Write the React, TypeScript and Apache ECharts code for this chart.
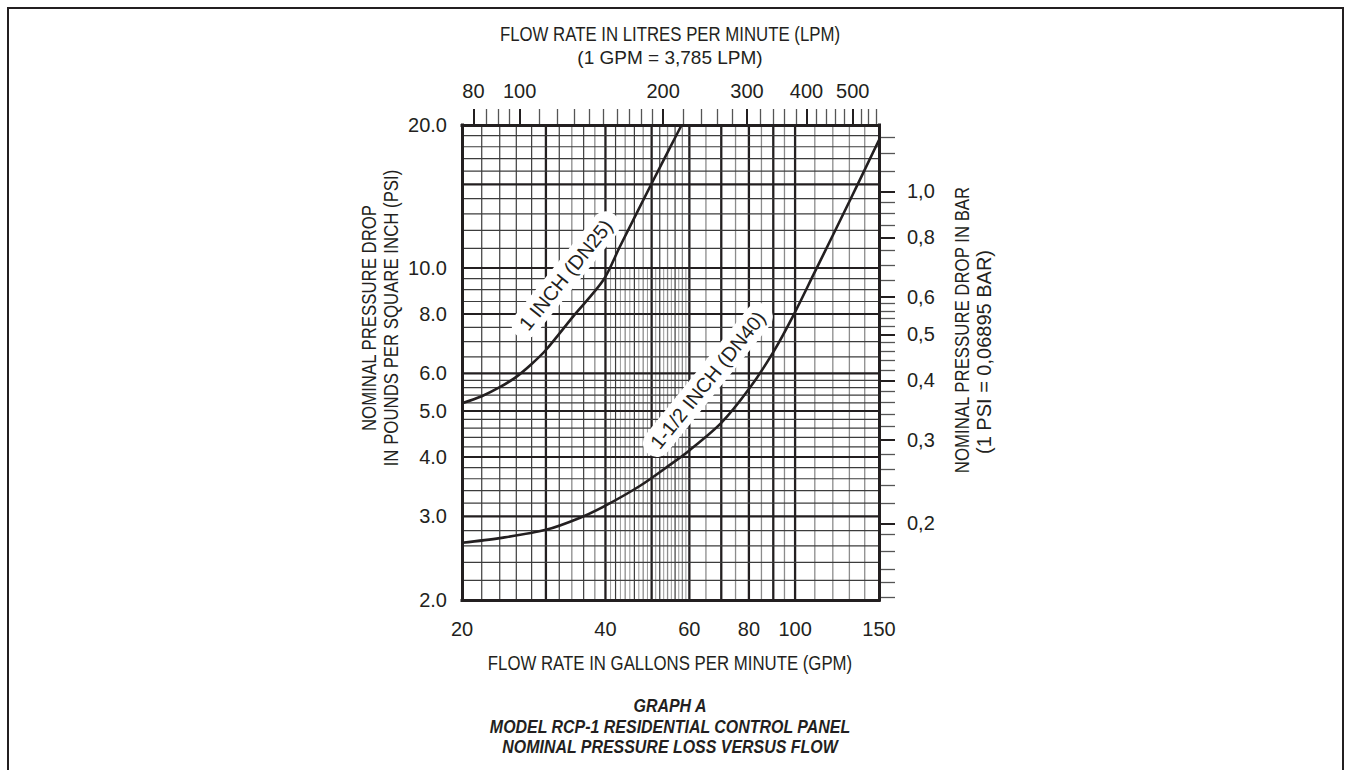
import React, { useEffect, useRef } from "react";
import * as echarts from "echarts";

// ---- tick / label values ----
const GPM_LABELS = [20, 40, 60, 80, 100, 150];
const PSI_LABELS = [2, 3, 4, 5, 6, 8, 10, 20];
const LPM_MAJOR = [80, 100, 200, 300, 400, 500];
const LPM_MINOR = [85, 90, 95, 110, 120, 130, 140, 150, 160, 170, 180, 190, 220, 240, 260, 280, 320, 340, 360, 380, 420, 440, 460, 480, 520, 540, 560];
const BAR_MAJOR = [0.2, 0.3, 0.4, 0.5, 0.6, 0.8, 1.0];
const BAR_MINOR = [0.14, 0.15, 0.16, 0.175, 0.19, 0.22, 0.24, 0.26, 0.28, 0.32, 0.34, 0.36, 0.38, 0.42, 0.44, 0.46, 0.48, 0.52, 0.54, 0.56, 0.58, 0.65, 0.7, 0.75, 0.85, 0.9, 0.95, 1.1, 1.2, 1.3];

// ---- grid line values ----
const V_MAJOR = [30, 40, 50, 60, 70, 80, 90, 100];
const V_DARK = [22, 24, 26, 28, 32, 36, 42, 46, 52, 56];
const V_GRAY = [34, 38, 44, 48, 54, 58, 65, 75, 85, 95, 110, 120, 130, 140];
const V_FINE = [41, 43, 45, 47, 49, 51, 53, 55, 57, 59];
const H_MAJOR = [3, 4, 5, 6, 8, 10, 15];
const H_MINOR = [2.2, 2.4, 2.6, 2.8, 3.2, 3.4, 3.6, 3.8, 4.2, 4.4, 4.6, 4.8, 5.2, 5.4, 5.6, 5.8, 6.5, 7, 7.5, 8.5, 9, 9.5, 11, 12, 13, 14, 16, 17, 18, 19];

// ---- curves ----
const DN25_GPM = [20, 22, 24, 26, 28, 30, 34.2, 39.6, 42.9, 50.4, 54.6, 57.8];
const DN25_PSI = [5.19, 5.37, 5.61, 5.9, 6.28, 6.72, 7.9, 9.43, 11.1, 15.3, 17.9, 20];
const DN40_GPM = [20, 24, 30, 35.4, 40, 47.3, 54.6, 60, 70, 80, 90, 99, 110, 130, 150];
const DN40_PSI = [2.64, 2.7, 2.81, 2.98, 3.16, 3.48, 3.85, 4.13, 4.72, 5.56, 6.65, 7.92, 9.81, 13.8, 18.6];

// curve label anchors (GPM, PSI)
const DN25_LABEL = [33, 9.67];
const DN40_LABEL = [65.6, 5.81];

const GPM_MIN = 20, GPM_MAX = 150, PSI_MIN = 2, PSI_MAX = 20, PSI_FINE_TOP = 10;
const LPM_PER_GPM = 3.785;
const BAR_PER_PSI = 0.06895;

const L = Math.log10;
const INK = "#231f20";
const FONT = "'Liberation Sans', Arial, Helvetica, sans-serif";
const FS = 20;
const NARROW = 0.84;

export default function App() {
  const ref = useRef<HTMLDivElement>(null);
  useEffect(() => {
    if (!ref.current) return;
    const chart = echarts.init(ref.current, null, { renderer: "svg" });

    const vItems = (vals: number[], stroke: string, w: number, y1 = PSI_MIN, y2 = PSI_MAX) =>
      vals.map((v) => ({ value: [L(v), L(y1), L(y2)], stroke, w }));
    const hItems = (vals: number[], stroke: string, w: number) =>
      vals.map((v) => ({ value: [L(v), L(GPM_MIN), L(GPM_MAX)], stroke, w }));

    const vData = [
      ...vItems(V_FINE, "#9a9a9a", 1, PSI_MIN, PSI_FINE_TOP),
      ...vItems(V_GRAY, "#8c8c8c", 1.3),
      ...vItems(V_DARK, "#3c3c3c", 1.2),
      ...vItems(V_MAJOR, INK, 2.3),
    ];
    const hData = [...hItems(H_MINOR, "#3c3c3c", 1.2), ...hItems(H_MAJOR, INK, 2.2)];

    const tickText = { color: INK, fontSize: FS, fontFamily: FONT };
    const border = { show: true, onZero: false, lineStyle: { color: INK, width: 3, cap: "square" } };
    const noLine = { show: false, onZero: false };

    const txt = (text: string, x: number, y: number, opts: any = {}) => ({
      type: "text", x, y,
      rotation: opts.rot || 0,
      scaleX: opts.sx == null ? NARROW : opts.sx,
      style: {
        text, fill: INK, textAlign: "center", textVerticalAlign: "middle",
        font: `${opts.style || ""} ${opts.fs || FS}px ${FONT}`,
      },
    });

    const option: any = {
      animation: false,
      backgroundColor: "#fff",
      grid: { left: 462, top: 125, width: 417, height: 475, show: false },
      xAxis: [
        {
          type: "value", min: L(GPM_MIN), max: L(GPM_MAX), position: "bottom", z: 10,
          axisLine: border,
          axisTick: { show: false }, splitLine: { show: false },
          axisLabel: { ...tickText, margin: 19, customValues: GPM_LABELS.map(L), formatter: (v: number) => String(Math.round(10 ** v)) },
        },
        {
          type: "value", min: L(GPM_MIN * LPM_PER_GPM), max: L(GPM_MAX * LPM_PER_GPM), position: "top", offset: 0, z: 10,
          axisLine: noLine, splitLine: { show: false }, axisLabel: { show: false },
          axisTick: { show: true, inside: false, length: 16, customValues: LPM_MINOR.map(L), lineStyle: { color: "#555", width: 1.3 } },
        },
        {
          type: "value", min: L(GPM_MIN * LPM_PER_GPM), max: L(GPM_MAX * LPM_PER_GPM), position: "top", offset: 0, z: 11,
          axisLine: border, splitLine: { show: false },
          axisTick: { show: true, inside: false, length: 16, customValues: LPM_MAJOR.map(L), lineStyle: { color: INK, width: 2 } },
          axisLabel: { ...tickText, margin: 24, customValues: LPM_MAJOR.map(L), formatter: (v: number) => String(Math.round(10 ** v)) },
        },
      ],
      yAxis: [
        {
          type: "value", min: L(PSI_MIN), max: L(PSI_MAX), position: "left", z: 10,
          axisLine: border,
          axisTick: { show: false }, splitLine: { show: false },
          axisLabel: { ...tickText, margin: 15, customValues: PSI_LABELS.map(L), formatter: (v: number) => (10 ** v).toFixed(1) },
        },
        {
          type: "value", min: L(PSI_MIN * BAR_PER_PSI), max: L(PSI_MAX * BAR_PER_PSI), position: "right", offset: 0, z: 10,
          axisLine: noLine, splitLine: { show: false }, axisLabel: { show: false },
          axisTick: { show: true, inside: false, length: 16, customValues: BAR_MINOR.map(L), lineStyle: { color: "#555", width: 1.3 } },
        },
        {
          type: "value", min: L(PSI_MIN * BAR_PER_PSI), max: L(PSI_MAX * BAR_PER_PSI), position: "right", offset: 0, z: 11,
          axisLine: border, splitLine: { show: false },
          axisTick: { show: true, inside: false, length: 16, customValues: BAR_MAJOR.map(L), lineStyle: { color: INK, width: 2 } },
          axisLabel: { ...tickText, margin: 28, customValues: BAR_MAJOR.map(L), formatter: (v: number) => (10 ** v).toFixed(1).replace(".", ",") },
        },
      ],
      series: [
        {
          type: "custom", xAxisIndex: 0, yAxisIndex: 0, z: 1, silent: true,
          data: vData,
          renderItem: (params: any, api: any) => {
            const it = vData[params.dataIndex];
            const a = api.coord([api.value(0), api.value(1)]);
            const b = api.coord([api.value(0), api.value(2)]);
            return { type: "line", shape: { x1: a[0], y1: a[1], x2: b[0], y2: b[1] }, style: { stroke: it.stroke, lineWidth: it.w } };
          },
        },
        {
          type: "custom", xAxisIndex: 0, yAxisIndex: 0, z: 1, silent: true,
          data: hData,
          renderItem: (params: any, api: any) => {
            const it = hData[params.dataIndex];
            const a = api.coord([api.value(1), api.value(0)]);
            const b = api.coord([api.value(2), api.value(0)]);
            return { type: "line", shape: { x1: a[0], y1: a[1], x2: b[0], y2: b[1] }, style: { stroke: it.stroke, lineWidth: it.w } };
          },
        },
        {
          type: "line", xAxisIndex: 0, yAxisIndex: 0, z: 3, smooth: 0.3, showSymbol: false, silent: true,
          lineStyle: { color: INK, width: 2.6 },
          data: DN25_GPM.map((g, i) => [L(g), L(DN25_PSI[i])]),
          markPoint: {
            z: 6, symbol: "circle", symbolSize: 0, silent: true,
            label: { show: true, position: "inside", rotate: 51, formatter: "1 INCH (DN25)", color: INK, fontSize: 20, fontFamily: FONT, backgroundColor: "#fff", padding: [4, 10], borderRadius: 14 },
            data: [{ coord: [L(DN25_LABEL[0]), L(DN25_LABEL[1])] }],
          },
        },
        {
          type: "line", xAxisIndex: 0, yAxisIndex: 0, z: 3, smooth: 0.3, showSymbol: false, silent: true,
          lineStyle: { color: INK, width: 2.6 },
          data: DN40_GPM.map((g, i) => [L(g), L(DN40_PSI[i])]),
          markPoint: {
            z: 6, symbol: "circle", symbolSize: 0, silent: true,
            label: { show: true, position: "inside", rotate: 51, formatter: "1-1/2 INCH (DN40)", color: INK, fontSize: 20, fontFamily: FONT, backgroundColor: "#fff", padding: [4, 10], borderRadius: 14 },
            data: [{ coord: [L(DN40_LABEL[0]), L(DN40_LABEL[1])] }],
          },
        },
      ],
      graphic: [
        { type: "rect", z: 20, shape: { x: 8, y: 8, width: 1335, height: 800 }, style: { fill: "none", stroke: INK, lineWidth: 2 } },
        txt("FLOW RATE IN LITRES PER MINUTE (LPM)", 670, 34),
        txt("(1 GPM = 3,785 LPM)", 670, 57, { sx: 1, fs: 19 }),
        txt("FLOW RATE IN GALLONS PER MINUTE (GPM)", 670, 663),
        txt("GRAPH A", 670, 706, { style: "italic bold", fs: 19 }),
        txt("MODEL RCP-1 RESIDENTIAL CONTROL PANEL", 670, 727, { style: "italic bold", fs: 19 }),
        txt("NOMINAL PRESSURE LOSS VERSUS FLOW", 670, 747, { style: "italic bold", fs: 19 }),
        txt("NOMINAL PRESSURE DROP", 369, 318, { rot: Math.PI / 2 }),
        txt("IN POUNDS PER SQUARE INCH (PSI)", 391, 318, { rot: Math.PI / 2 }),
        txt("NOMINAL PRESSURE DROP IN BAR", 962, 330, { rot: Math.PI / 2 }),
        txt("(1 PSI = 0,06895 BAR)", 984, 352, { rot: Math.PI / 2, sx: 1 }),
      ],
    };
    chart.setOption(option);
    return () => chart.dispose();
  }, []);
  return <div ref={ref} style={{ position: "fixed", left: 0, top: 0, width: 1351, height: 770, background: "#fff" }} />;
}
